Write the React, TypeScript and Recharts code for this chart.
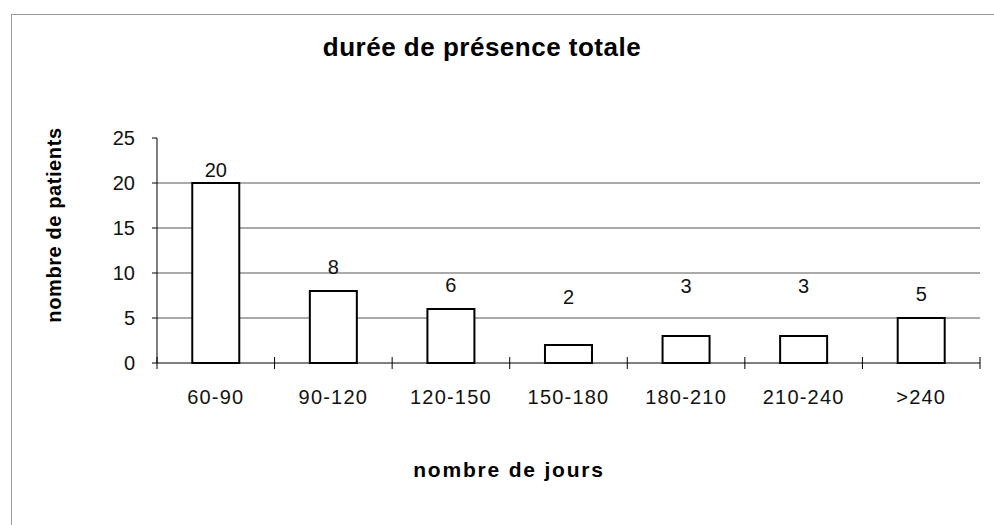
import React from 'react';
import { BarChart, Bar, XAxis, YAxis, CartesianGrid, LabelList } from 'recharts';

const CATEGORIES = ['60-90', '90-120', '120-150', '150-180', '180-210', '210-240', '>240'];
const PATIENTS = [20, 8, 6, 2, 3, 3, 5];
const Y_TICKS = [0, 5, 10, 15, 20, 25];
const GRID_VALUES = [5, 10, 15, 20];

// how far above the bar top each value label sits (px), as in the scan
const LABEL_LIFT = [13, 24, 24, 48, 50, 50, 24];

const FONT = '"Liberation Sans", Arial, sans-serif';
const X_TICK_GAP = 27;

const chartData = CATEGORIES.map((range, i) => ({ range, patients: PATIENTS[i] }));

const CategoryTick = (props: any) => {
  const { x, y, payload, index, visibleTicksCount, width } = props;
  const w = typeof width === 'number' ? width : 823;
  const band = w / visibleTicksCount;
  const axisY = y - X_TICK_GAP;
  const left = x - band / 2;
  const right = x + band / 2;
  return (
    <g>
      <line x1={left} x2={left} y1={axisY - 6} y2={axisY + 6} stroke="#000" strokeWidth={1} />
      {index === visibleTicksCount - 1 && (
        <line x1={right} x2={right} y1={axisY - 6} y2={axisY + 6} stroke="#000" strokeWidth={1} />
      )}
      <text x={x} y={y} dy="0.71em" textAnchor="middle" fontSize={20} fill="#111" letterSpacing={1.2}>
        {payload.value}
      </text>
    </g>
  );
};

const ValueLabel = (props: any) => {
  const { x, y, width, value, index } = props;
  return (
    <text
      x={x + width / 2}
      y={y - LABEL_LIFT[index]}
      dy="0.36em"
      textAnchor="middle"
      fontSize={20}
      fill="#111"
    >
      {value}
    </text>
  );
};

export default function App() {
  return (
    <div
      style={{
        position: 'absolute',
        left: 0,
        top: 0,
        width: 994,
        height: 525,
        overflow: 'hidden',
        background: '#fff',
        fontFamily: FONT,
      }}
    >
      {/* frame of the chart area */}
      <div
        style={{
          position: 'absolute',
          left: 11,
          top: 14,
          width: 990,
          height: 600,
          borderLeft: '1px solid #9a9a9a',
          borderTop: '1px solid #9a9a9a',
        }}
      />

      <BarChart
        width={994}
        height={525}
        data={chartData}
        margin={{ top: 138, right: 14, bottom: 122, left: 97 }}
        barCategoryGap="30%"
        style={{ position: 'absolute', left: 0, top: 0 }}
      >
        <CartesianGrid
          vertical={false}
          stroke="#555"
          strokeWidth={1}
          horizontalValues={GRID_VALUES}
        />
        <XAxis
          dataKey="range"
          height={40}
          interval={0}
          axisLine={{ stroke: '#000', strokeWidth: 1 }}
          tickLine={false}
          tickSize={0}
          tickMargin={X_TICK_GAP}
          tick={<CategoryTick />}
        />
        <YAxis
          width={60}
          domain={[0, 25]}
          ticks={Y_TICKS}
          interval={0}
          axisLine={{ stroke: '#000', strokeWidth: 1 }}
          tickLine={{ stroke: '#000', strokeWidth: 1 }}
          tickSize={5}
          tickMargin={17}
          tick={{ fontSize: 20, fill: '#111' }}
        />
        <Bar dataKey="patients" fill="#fff" stroke="#000" strokeWidth={2} isAnimationActive={false}>
          <LabelList dataKey="patients" content={<ValueLabel />} />
        </Bar>
      </BarChart>

      <div
        style={{
          position: 'absolute',
          left: 482,
          top: 47,
          transform: 'translate(-50%, -50%)',
          fontSize: 26,
          fontWeight: 'bold',
          lineHeight: 1,
          whiteSpace: 'nowrap',
          letterSpacing: 0.5,
          color: '#000',
        }}
      >
        durée de présence totale
      </div>

      <div
        style={{
          position: 'absolute',
          left: 54,
          top: 225,
          transform: 'translate(-50%, -50%) rotate(-90deg)',
          fontSize: 20,
          fontWeight: 'bold',
          lineHeight: 1,
          whiteSpace: 'nowrap',
          letterSpacing: 0.6,
          color: '#000',
        }}
      >
        nombre de patients
      </div>

      <div
        style={{
          position: 'absolute',
          left: 509,
          top: 469,
          transform: 'translate(-50%, -50%)',
          fontSize: 21,
          fontWeight: 'bold',
          lineHeight: 1,
          whiteSpace: 'nowrap',
          letterSpacing: 1.8,
          color: '#000',
        }}
      >
        nombre de jours
      </div>
    </div>
  );
}
